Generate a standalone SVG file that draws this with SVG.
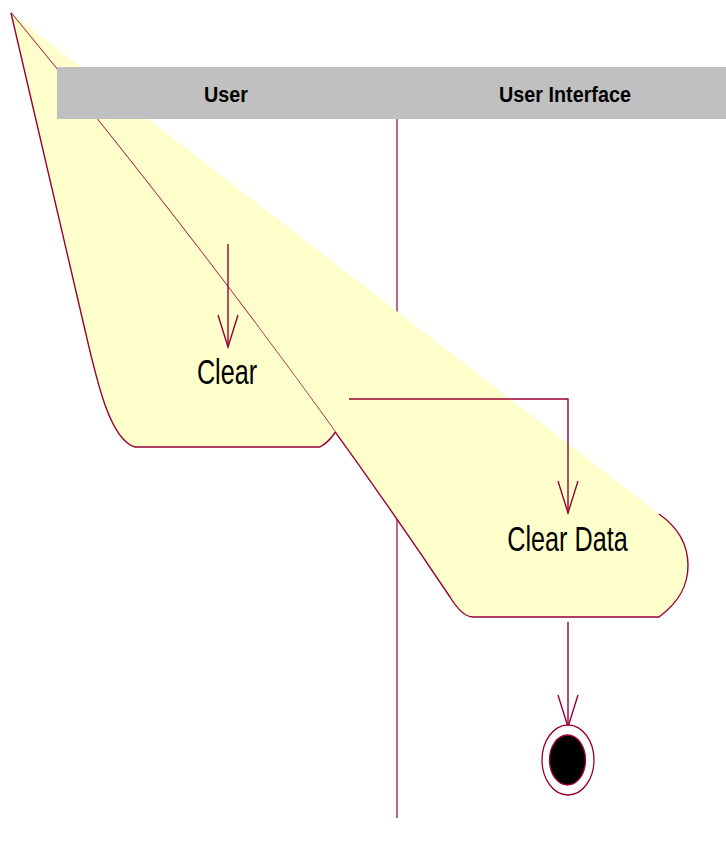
<svg xmlns="http://www.w3.org/2000/svg" width="726" height="846" viewBox="0 0 726 846">
  <style>
    .lane-line { stroke: #990033; stroke-width: 1.2; fill: none; }
    .act-fill { fill: #FFFFCC; stroke: none; }
    .act-edge { fill: none; stroke: #990033; stroke-width: 1.4; stroke-linejoin: round; }
    .flow { fill: none; stroke: #990033; stroke-width: 1.4; }
    .head-bg { fill: #C0C0C0; }
    .head-text { font-family: "Liberation Sans", Arial, sans-serif; font-weight: bold; font-size: 21.5px; fill: #000; text-anchor: middle; }
    .act-text { font-family: "Liberation Sans", Arial, sans-serif; font-size: 36px; fill: #000; text-anchor: middle; }
  </style>
  <defs>
    <marker id="open-arrow" viewBox="-34 -12 36 24" refX="0" refY="0" markerWidth="36" markerHeight="24" markerUnits="userSpaceOnUse" orient="auto">
      <path d="M-32,-10 L0,0 L-32,10" fill="none" stroke="#990033" stroke-width="1.4"/>
    </marker>
  </defs>

  <rect width="726" height="846" fill="#FFFFFF"/>

  <!-- swimlane divider -->
  <line class="lane-line" x1="397" y1="119" x2="397" y2="818"/>

  <!-- activity: Clear Data -->
  <g id="node-clear-data">
    <path class="act-fill" d="M11,13 Q269.5,327 450,597 C458,610 465,617 473,617 L659,617 C679,602 688,586 688,565.5 C688,545 679,528 659,514 Z"/>
    <path class="act-edge" d="M11,13 Q269.5,327 450,597 C458,610 465,617 473,617 L659,617 C679,602 688,586 688,565.5 C688,545 679,528 659,514"/>
    <text class="act-text" transform="translate(567.5,551) scale(0.7,1)" x="0" y="0">Clear Data</text>
  </g>

  <!-- activity: Clear -->
  <g id="node-clear">
    <path class="act-fill" d="M11,13 L85,330 C96.5,380 110,440 135,447 L320,447 Q329,442 335.4,432 Q192.4,233.4 11,13 Z"/>
    <path class="act-edge" d="M11,13 L85,330 C96.5,380 110,440 135,447 L320,447 Q329,442 335.4,432"/>
    <text class="act-text" transform="translate(227,384) scale(0.7,1)" x="0" y="0">Clear</text>
  </g>

  <!-- swimlane header -->
  <g id="lanes">
    <rect class="head-bg" x="57" y="67" width="669" height="52"/>
    <text class="head-text" transform="translate(226,102) scale(0.92,1)" x="0" y="0">User</text>
    <text class="head-text" transform="translate(565,102) scale(0.92,1)" x="0" y="0">User Interface</text>
  </g>

  <!-- transitions -->
  <g id="connectors">
    <path class="flow" d="M228,244 L228,347" marker-end="url(#open-arrow)"/>
    <path class="flow" d="M349,399 L568,399 L568,513" marker-end="url(#open-arrow)"/>
    <path class="flow" d="M568,622 L568,727" marker-end="url(#open-arrow)"/>
  </g>

  <!-- final state -->
  <g id="node-final">
    <ellipse cx="568" cy="760" rx="26" ry="35" fill="#FFFFFF" stroke="#990033" stroke-width="1.3"/>
    <ellipse cx="567.5" cy="760" rx="18" ry="25" fill="#000000" stroke="#990033" stroke-width="1.3"/>
  </g>
</svg>
